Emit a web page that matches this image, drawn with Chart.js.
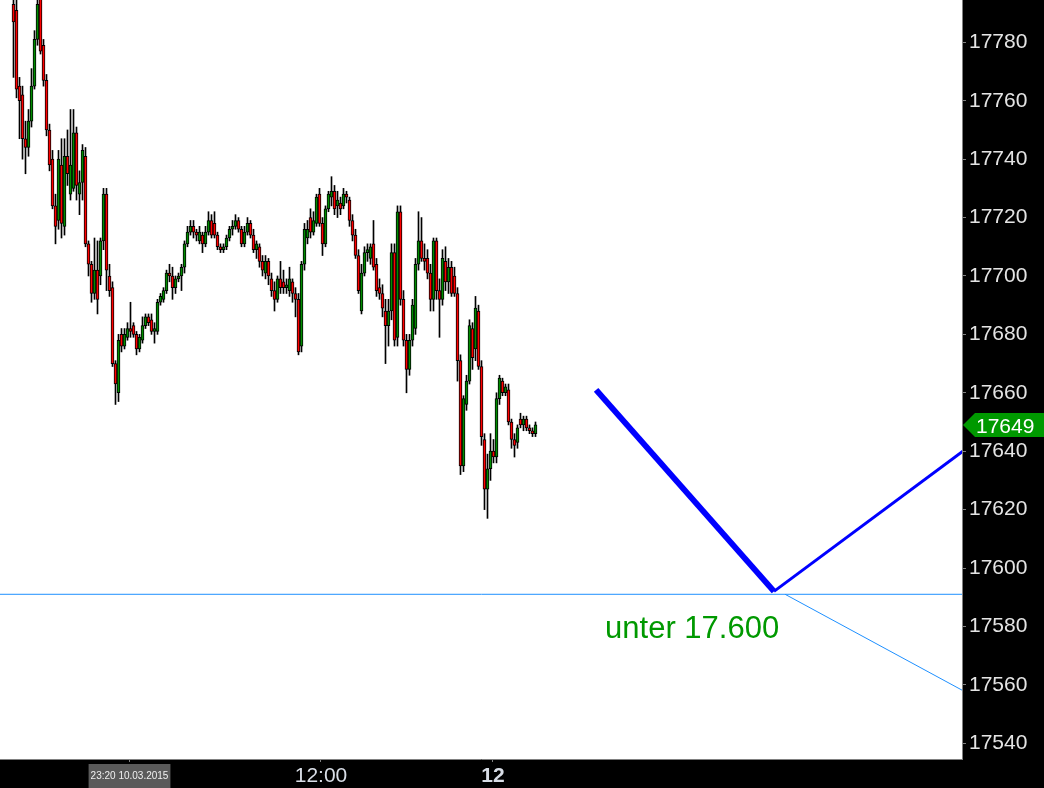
<!DOCTYPE html>
<html>
<head>
<meta charset="utf-8">
<script src="https://cdn.jsdelivr.net/npm/chart.js@4/dist/chart.umd.min.js"></script>
<style>
  html, body { margin: 0; padding: 0; background: #000; }
  canvas { display: block; }
</style>
</head>
<body>
<canvas id="myCanvas" width="1044" height="788"></canvas>
<script>
// candles, one per slot
const opens = [
  17793,17791,17765,17762,17747,17744,17753,17765,17781,17795,17779,17767,17750,17740,17724,17719,17738,17717,17741,17728,17730,17749,17728,17732,17741,
  17711,17704,17694,17702,17700,17712,17728,17700,17696,17670,17660,17680,17676,17679,17682,17683,17680,17675,17678,17683,17686,17685,17681,17681,17691,
  17692,17695,17701,17700,17696,17699,17700,17703,17711,17715,17717,17715,17712,17714,17711,17715,17719,17718,17714,17710,17709,17710,17713,17716,17717,
  17719,17716,17711,17715,17718,17714,17709,17710,17705,17701,17705,17699,17695,17692,17699,17698,17696,17695,17698,17694,17692,17676,17704,17713,17720,
  17715,17718,17728,17718,17711,17723,17727,17729,17724,17725,17724,17728,17726,17719,17714,17707,17688,17701,17708,17706,17711,17704,17696,17694,17688,
  17683,17688,17708,17679,17722,17692,17678,17668,17678,17682,17704,17712,17706,17706,17701,17692,17712,17695,17692,17705,17698,17703,17700,17694,17671,
  17635,17656,17664,17682,17675,17688,17669,17644,17627,17634,17640,17638,17658,17664,17660,17661,17650,17644,17643,17651,17649,17651,17648,17647,17646
];
const highs = [
  17797,17796,17768,17765,17753,17757,17771,17784,17796,17798,17781,17769,17752,17743,17728,17743,17747,17747,17750,17757,17757,17751,17736,17745,17744,
  17712,17705,17713,17712,17713,17730,17730,17704,17698,17671,17680,17682,17682,17684,17691,17684,17681,17680,17686,17687,17687,17687,17684,17692,17694,
  17696,17702,17704,17703,17700,17701,17704,17712,17717,17719,17719,17716,17717,17715,17717,17722,17721,17722,17715,17711,17711,17714,17717,17719,17721,
  17720,17717,17717,17720,17719,17716,17712,17711,17707,17707,17706,17701,17698,17700,17705,17702,17699,17703,17699,17696,17694,17705,17718,17719,17723,
  17722,17728,17730,17720,17724,17729,17734,17731,17729,17727,17730,17729,17727,17721,17716,17709,17704,17710,17711,17711,17719,17706,17699,17697,17692,
  17692,17711,17711,17724,17724,17695,17680,17680,17692,17706,17722,17720,17711,17709,17704,17713,17713,17699,17709,17710,17706,17705,17703,17696,17673,
  17659,17666,17685,17684,17693,17690,17671,17646,17639,17646,17644,17660,17666,17665,17663,17663,17651,17646,17649,17653,17652,17652,17649,17648,17650
];
const lows = [
  17768,17761,17747,17740,17735,17741,17751,17764,17779,17776,17765,17748,17736,17723,17711,17716,17713,17714,17731,17726,17729,17726,17721,17726,17710,
  17700,17691,17692,17687,17697,17709,17695,17693,17669,17656,17657,17674,17675,17678,17679,17679,17673,17674,17677,17682,17683,17680,17677,17680,17690,
  17691,17694,17698,17692,17694,17698,17695,17701,17710,17714,17713,17712,17711,17708,17710,17714,17713,17713,17709,17708,17708,17709,17712,17714,17716,
  17715,17710,17710,17714,17713,17708,17706,17703,17700,17699,17697,17693,17688,17691,17694,17694,17694,17693,17691,17686,17673,17674,17702,17711,17713,
  17714,17717,17717,17707,17710,17722,17724,17721,17720,17721,17723,17725,17717,17712,17706,17694,17687,17700,17705,17704,17702,17693,17692,17686,17670,
  17676,17685,17676,17676,17690,17676,17660,17666,17676,17680,17702,17705,17702,17699,17688,17688,17692,17679,17690,17695,17694,17693,17693,17664,17632,
  17633,17654,17663,17668,17671,17668,17642,17620,17617,17630,17636,17636,17656,17659,17659,17649,17641,17638,17641,17648,17647,17647,17646,17645,17645
];
const closes = [
  17787,17764,17760,17747,17744,17753,17765,17781,17793,17777,17767,17750,17738,17724,17717,17740,17718,17741,17735,17738,17749,17731,17732,17743,17711,
  17704,17694,17702,17692,17712,17728,17702,17695,17670,17663,17678,17676,17680,17682,17681,17680,17675,17679,17683,17686,17684,17681,17682,17691,17693,
  17695,17701,17700,17696,17699,17700,17703,17711,17715,17717,17715,17714,17715,17711,17715,17719,17714,17714,17710,17709,17710,17713,17716,17717,17719,
  17716,17711,17715,17718,17714,17709,17711,17705,17702,17705,17700,17695,17692,17699,17696,17696,17697,17699,17694,17692,17674,17704,17716,17716,17715,
  17719,17727,17718,17711,17723,17728,17729,17723,17726,17723,17728,17727,17719,17714,17707,17695,17701,17708,17709,17710,17703,17695,17694,17689,17683,
  17688,17708,17678,17722,17692,17678,17668,17678,17690,17704,17712,17706,17705,17701,17692,17712,17695,17692,17706,17698,17703,17694,17694,17671,17635,
  17658,17664,17683,17672,17689,17669,17645,17627,17634,17640,17638,17658,17665,17660,17662,17650,17644,17642,17648,17649,17651,17648,17647,17646,17649
];

const lastPrice = 17649;
const yTickValues = [17540, 17560, 17580, 17600, 17620, 17640, 17660, 17680, 17700, 17720, 17740, 17760, 17780];
// time ticks, in candle slots
const timeTickPos = [38.67, 102.5, 159.8];
const timeTickLabels = ["23:20 10.03.2015", "12:00", "12"];

// drawn scenario: [slot, price]
const supportLevel = 17591;
const scenarioDown = [[194.2, 17661], [253.5, 17592]];
const scenarioUp = [[253.5, 17592], [316.5, 17640]];
const fanLine = [[257.2, 17591], [316.5, 17558]];
const noteText = "unter 17.600";
const notePos = [197.2, 17576];

const FONT = "'Liberation Sans', Arial, sans-serif";

const wickData = opens.map((o, i) => ({ x: i, y: [lows[i], highs[i]] }));
const bodyData = opens.map((o, i) => ({ x: i, y: [o, closes[i]] }));
const bodyColors = opens.map((o, i) => (closes[i] >= o ? "#008c00" : "#ff0000"));
const toPoints = (arr) => arr.map((p) => ({ x: p[0], y: p[1] }));

const panels = {
  id: "panels",
  beforeDraw(chart) {
    const { ctx, chartArea } = chart;
    ctx.save();
    ctx.fillStyle = "#000";
    ctx.fillRect(0, 0, chart.width, chart.height);
    ctx.fillStyle = "#fff";
    ctx.fillRect(chartArea.left, chartArea.top, chartArea.right - chartArea.left, chartArea.bottom - chartArea.top);
    ctx.restore();
  },
  afterDraw(chart) {
    const { ctx } = chart;
    const x = chart.scales.x;
    const y = chart.scales.y;
    ctx.save();
    // note text
    ctx.font = "31px " + FONT;
    ctx.fillStyle = "#009900";
    ctx.textBaseline = "alphabetic";
    ctx.textAlign = "left";
    ctx.fillText(noteText, x.getPixelForValue(notePos[0]), y.getPixelForValue(notePos[1]));

    // last price tag
    const py = Math.round(y.getPixelForValue(lastPrice));
    const left = y.left + 1;
    ctx.fillStyle = "#009900";
    ctx.beginPath();
    ctx.moveTo(left, py);
    ctx.lineTo(left + 12, py - 12);
    ctx.lineTo(chart.width, py - 12);
    ctx.lineTo(chart.width, py + 12);
    ctx.lineTo(left + 12, py + 12);
    ctx.closePath();
    ctx.fill();
    ctx.fillStyle = "#ffffff";
    ctx.font = "21px " + FONT;
    ctx.fillText(String(lastPrice), left + 13, py + 8);
    ctx.restore();
  }
};

const myChart = new Chart(document.getElementById("myCanvas"), {
  type: "bar",
  data: {
    datasets: [
      {
        type: "line",
        data: toPoints([[-4.5, supportLevel], [316.5, supportLevel]]),
        borderColor: "#1e90ff",
        borderWidth: 1,
        pointRadius: 0,
        order: 0
      },
      {
        type: "line",
        data: toPoints(fanLine),
        borderColor: "#1e90ff",
        borderWidth: 1,
        pointRadius: 0,
        order: 0
      },
      {
        type: "line",
        data: toPoints(scenarioDown),
        borderColor: "#0000ff",
        borderWidth: 6,
        pointRadius: 0,
        order: 0
      },
      {
        type: "line",
        data: toPoints(scenarioUp),
        borderColor: "#0000ff",
        borderWidth: 3,
        pointRadius: 0,
        order: 0
      },
      {
        data: wickData,
        backgroundColor: "#000",
        borderWidth: 0,
        grouped: false,
        categoryPercentage: 1,
        barPercentage: 1,
        maxBarThickness: 1,
        order: 2
      },
      {
        data: bodyData,
        backgroundColor: bodyColors,
        borderColor: "#000",
        borderWidth: 1,
        borderSkipped: false,
        grouped: false,
        categoryPercentage: 1,
        barPercentage: 1,
        maxBarThickness: 3,
        order: 1
      }
    ]
  },
  options: {
    responsive: false,
    animation: false,
    layout: { padding: 0 },
    plugins: { legend: { display: false }, tooltip: { enabled: false } },
    scales: {
      x: {
        type: "linear",
        min: -4.5,
        max: 316.17,
        offset: false,
        bounds: "data",
        afterFit(s) {
          s.height = 29;
          s.paddingLeft = 0;
          s.paddingRight = 0;
        },
        afterBuildTicks(s) { s.ticks = timeTickPos.map((v) => ({ value: v })); },
        grid: { drawOnChartArea: false, drawTicks: true, tickLength: 3, color: "#808080", offset: false },
        border: { display: true, color: "#808080" },
        ticks: {
          autoSkip: false,
          maxRotation: 0,
          padding: 3,
          color: (c) => (c.index === 0 ? "#f0f0f0" : "#d8dde6"),
          callback: (v, i) => timeTickLabels[i],
          font: (c) => {
            if (c.index === 0) return { family: FONT, size: 10, lineHeight: 2.3 };
            if (c.index === 2) return { family: FONT, size: 21, weight: "bold", lineHeight: 1.1 };
            return { family: FONT, size: 21, lineHeight: 1.1 };
          },
          showLabelBackdrop: (c) => c.index === 0,
          backdropColor: "#5a5a5a",
          backdropPadding: { top: 1, bottom: 0, left: 2, right: 2 }
        }
      },
      y: {
        position: "right",
        min: 17534.6,
        max: 17794.5,
        bounds: "data",
        afterFit(s) {
          s.width = 82;
          s.paddingTop = 0;
          s.paddingBottom = 0;
        },
        afterBuildTicks(s) { s.ticks = yTickValues.map((v) => ({ value: v })); },
        grid: { drawOnChartArea: false, drawTicks: true, tickLength: 4, color: "#808080" },
        border: { display: true, color: "#808080" },
        ticks: {
          color: "#e4e4e4",
          padding: 3,
          font: { family: FONT, size: 21 },
          callback: (v) => String(v)
        }
      }
    }
  },
  plugins: [panels]
});
</script>
</body>
</html>
